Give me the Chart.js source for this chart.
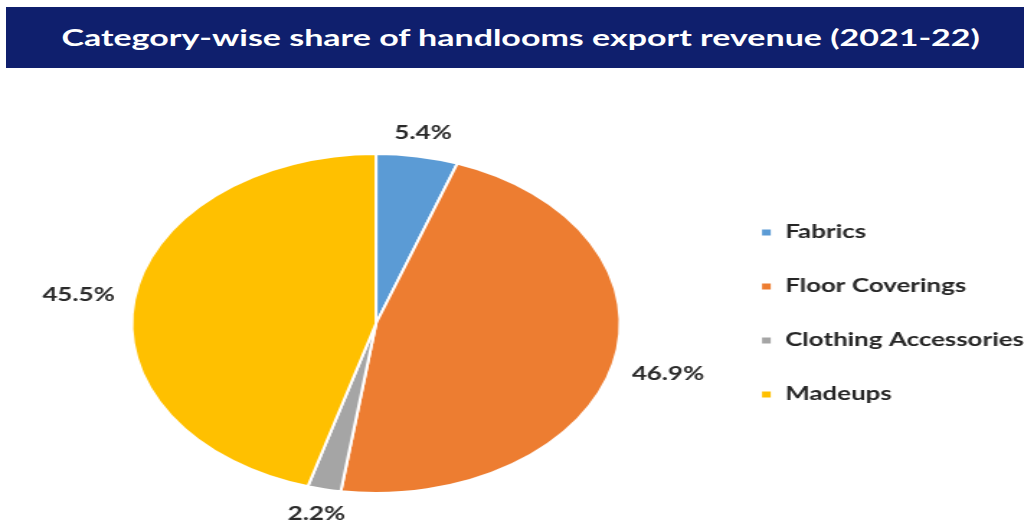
<!DOCTYPE html>
<html>
<head>
<meta charset="utf-8">
<script src="https://cdn.jsdelivr.net/npm/chart.js@4.4.0/dist/chart.umd.min.js"></script>
<style>
    html, body { margin: 0; padding: 0; background: #ffffff; overflow: hidden; }
    /* whole sheet is laid out narrow and then widened */
    #sheet {
        position: relative;
        width: 711px;
        height: 520px;
        transform: scaleX(1.4402);
        transform-origin: 0 0;
    }
    #banner {
        position: absolute;
        left: 4px;
        top: 7px;
        width: 699px;
        height: 61px;
        padding-left: 8px;
        background: #0f1f6d;
        color: #ffffff;
        font-family: Lato, "Noto Sans", sans-serif;
        font-weight: 700;
        font-size: 23.6px;
        line-height: 61px;
        text-align: center;
    }
    #chart { position: absolute; left: 0; top: 0; }
</style>
</head>
<body>
<div id="sheet">
    <canvas id="chart" width="711" height="520"></canvas>
    <div id="banner">Category-wise share of handlooms export revenue (2021-22)</div>
</div>
<script>
var categories = ["Fabrics", "Floor Coverings", "Clothing Accessories", "Madeups"];
var shares = [5.4, 46.9, 2.2, 45.5];
var colours = ["#5b9bd5", "#ed7d31", "#a5a5a5", "#ffc000"];

var labelFont = "bold 18px Lato, 'Noto Sans', sans-serif";

// percent labels sitting just outside each slice
var outsideLabels = {
    id: 'outsideLabels',
    afterDatasetsDraw: function (chart) {
        var ctx = chart.ctx;
        var meta = chart.getDatasetMeta(0);
        ctx.save();
        ctx.font = labelFont;
        ctx.fillStyle = "#2a2a2a";
        ctx.textAlign = "center";
        ctx.textBaseline = "middle";
        meta.data.forEach(function (arc, i) {
            var p = arc.getProps(['x', 'y', 'startAngle', 'endAngle', 'outerRadius'], true);
            var mid = (p.startAngle + p.endAngle) / 2;
            var text = shares[i].toFixed(1) + "%";
            var halfW = ctx.measureText(text).width / 2;
            var halfH = 8;
            var dist = p.outerRadius + 13 + halfW * Math.abs(Math.cos(mid)) + halfH * Math.abs(Math.sin(mid));
            ctx.fillText(text, p.x + Math.cos(mid) * dist, p.y + Math.sin(mid) * dist + 1);
        });
        ctx.restore();
    }
};

// lift the legend column a little above the pie's centre line
var legendNudge = {
    id: 'legendNudge',
    afterLayout: function (chart) {
        chart.legend.top -= 10;
        chart.legend.bottom -= 10;
    }
};

new Chart(document.getElementById('chart'), {
    type: 'pie',
    data: {
        labels: categories,
        datasets: [{
            data: shares,
            backgroundColor: colours,
            borderColor: "#ffffff",
            borderWidth: 2
        }]
    },
    options: {
        responsive: false,
        animation: false,
        devicePixelRatio: 1,
        layout: {
            padding: { top: 153, bottom: 26, left: 30, right: -10 }
        },
        plugins: {
            legend: {
                position: 'right',
                labels: {
                    boxWidth: 8,
                    boxHeight: 8,
                    padding: 36,
                    color: "#262626",
                    font: { family: "Lato, 'Noto Sans', sans-serif", size: 18, weight: 'bold' }
                }
            },
            tooltip: { enabled: false }
        }
    },
    plugins: [outsideLabels, legendNudge]
});
</script>
</body>
</html>
